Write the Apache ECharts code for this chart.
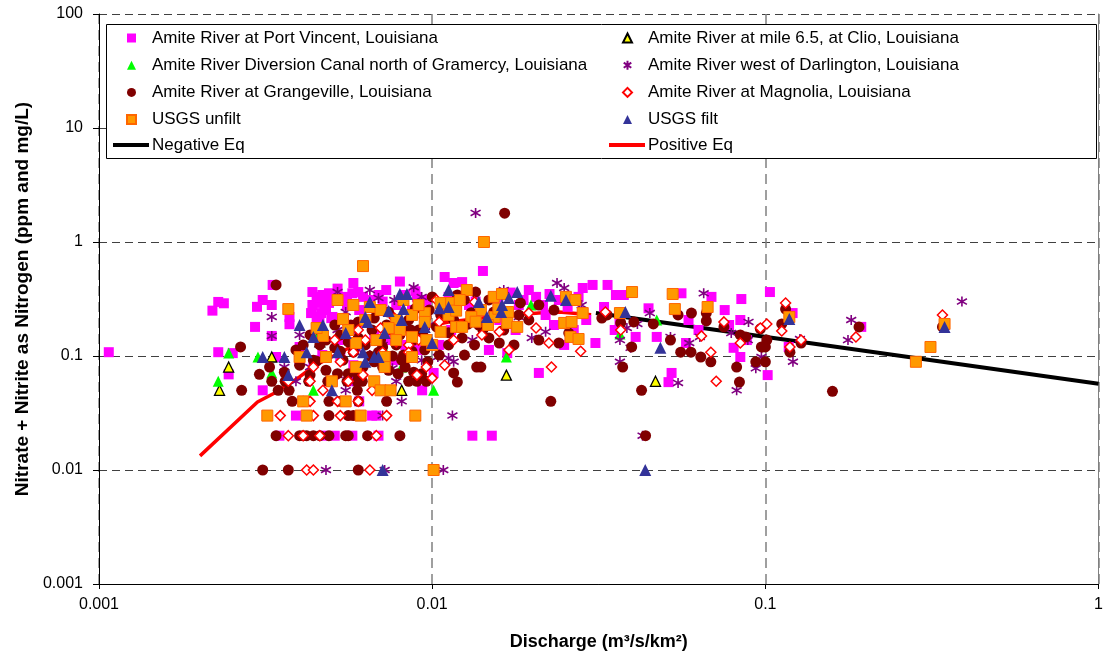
<!DOCTYPE html>
<html>
<head>
<meta charset="utf-8">
<script src="https://cdn.jsdelivr.net/npm/echarts@6/dist/echarts.min.js"></script>
<style>
html, body { margin: 0; padding: 0; background: #ffffff; }
#chart { width: 1106px; height: 657px; }
</style>
</head>
<body>
<div id="chart"></div>
<script>
// Nitrate + nitrite (mg/L as N) against unit discharge (m3/s/km2), Amite River basin.
// Each point is [discharge, concentration].

const xTickLabels = ['0.001', '0.01', '0.1', '1'];
const yTickLabels = ['0.001', '0.01', '0.1', '1', '10', '100'];

const portVincent = [
  [0.00107,0.108],[0.00219,0.25],[0.00228,0.298],[0.00237,0.29],[0.00228,0.108],[0.00252,0.106],[0.00245,0.069],
  [0.00294,0.18],[0.00298,0.27],[0.0031,0.31],[0.0033,0.28],[0.00332,0.42],[0.00373,0.22],[0.00373,0.19],[0.004,0.12],
  [0.0031,0.05],[0.0033,0.15],
  [0.00437,0.364],[0.0045,0.33],[0.00468,0.343],[0.0048,0.343],[0.0049,0.355],[0.00437,0.28],[0.00459,0.292],
  [0.0049,0.292],[0.00433,0.238],[0.00464,0.238],[0.0045,0.215],[0.00498,0.215],[0.00475,0.262],[0.00459,0.22],
  [0.0048,0.253],[0.00502,0.22],[0.00555,0.28],[0.0058,0.437],[0.00555,0.33],[0.00604,0.253],[0.00576,0.355],
  [0.00728,0.379],[0.008,0.45],[0.009,0.33],[0.0095,0.31],[0.0101,0.071],[0.00468,0.102],[0.0044,0.092],
  [0.00933,0.05],[0.00604,0.04],[0.0039,0.03],[0.0068,0.03],[0.0066,0.03],[0.00348,0.02],[0.0047,0.02],[0.0051,0.02],
  [0.00576,0.02],[0.0069,0.02],[0.0056,0.06],
  [0.0109,0.493],[0.0116,0.437],[0.0123,0.445],[0.0142,0.557],[0.0195,0.379],[0.0205,0.33],[0.0283,0.395],[0.0303,0.42],
  [0.0219,0.229],[0.0148,0.113],[0.0168,0.106],[0.0209,0.071],[0.0309,0.13],[0.0132,0.02],[0.0151,0.02],
  [0.0336,0.42],[0.0356,0.343],[0.0376,0.343],[0.0328,0.269],[0.0446,0.262],[0.056,0.355],[0.0689,0.33],[0.0847,0.316],
  [0.0755,0.253],[0.0841,0.207],[0.0408,0.147],[0.0472,0.147],[0.0578,0.13],[0.0523,0.071],[0.0512,0.059],[0.0803,0.118],
  [0.0841,0.098],[0.1016,0.068],[0.0353,0.169],[0.1032,0.364],[0.1207,0.238],[0.1175,0.12],[0.194,0.18],
  [0.0129,0.28],[0.0159,0.207],[0.0178,0.169],[0.0232,0.187],[0.0249,0.125],[0.0266,0.169],[0.0114,0.169],[0.0105,0.125],
  [0.0182,0.28],[0.024,0.31],[0.029,0.207],[0.0365,0.207],[0.0588,0.207],[0.063,0.169],[0.0778,0.187],[0.088,0.138],
  [0.006,0.364],[0.0065,0.31],[0.0069,0.343],[0.0078,0.28],[0.0083,0.343],[0.0087,0.253],[0.0063,0.199],[0.0067,0.153],
  [0.0074,0.138],[0.0058,0.169],[0.0053,0.138],[0.0083,0.125],[0.0091,0.113],[0.0077,0.092],[0.0058,0.083],[0.0053,0.096],
  [0.004,0.092],[0.0034,0.098],
  [0.0052,0.39],[0.0062,0.33],[0.0071,0.3],[0.0089,0.37],[0.0096,0.27],[0.0112,0.33],[0.0135,0.3],[0.0158,0.29],
  [0.0172,0.36],[0.0188,0.31],[0.0215,0.28],[0.0225,0.35],[0.0255,0.27],[0.0275,0.33]
];

const clio = [
  [0.00245,0.08],[0.0023,0.05],[0.0033,0.098],[0.0046,0.133],[0.0081,0.05],[0.0167,0.068],[0.0468,0.06]
];

const diversion = [
  [0.00245,0.106],[0.003,0.098],[0.00228,0.06],[0.0033,0.071],[0.0046,0.163],[0.0072,0.113],[0.0081,0.08],
  [0.0044,0.05],[0.0101,0.05],[0.0167,0.098],[0.0198,0.28],[0.0472,0.207],[0.0366,0.156]
];

const darlington = [
  [0.0033,0.22],[0.0033,0.15],[0.0052,0.364],[0.0069,0.323],[0.0088,0.401],[0.0093,0.33],[0.0055,0.243],[0.0052,0.169],
  [0.0059,0.163],[0.0036,0.08],[0.0043,0.08],[0.0052,0.068],[0.0076,0.078],[0.0093,0.092],[0.0078,0.06],[0.0039,0.06],
  [0.0058,0.06],[0.0055,0.05],[0.0081,0.04],[0.0071,0.03],[0.0048,0.01],[0.0072,0.01],
  [0.0135,1.8],[0.0115,0.03],[0.0108,0.01],[0.0428,0.02],[0.0237,0.437],[0.0249,0.395],[0.0281,0.28],[0.0182,0.22],
  [0.0219,0.163],[0.0199,0.144],[0.0104,0.098],[0.0112,0.096],[0.0116,0.089],[0.0132,0.138],
  [0.0653,0.355],[0.045,0.238],[0.0413,0.191],[0.0384,0.176],[0.0366,0.138],[0.0394,0.118],[0.0519,0.147],[0.0591,0.13],
  [0.0636,0.147],[0.0366,0.089],[0.0547,0.058],[0.082,0.05],[0.089,0.199],[0.079,0.159],[0.0886,0.138],[0.0973,0.098],
  [0.0936,0.078],[0.121,0.089],[0.127,0.141],[0.181,0.207],[0.177,0.138],[0.389,0.30],
  [0.0077,0.31],[0.0065,0.379],[0.0085,0.169],[0.0071,0.125],[0.006,0.113],[0.0046,0.138],[0.004,0.153],[0.0098,0.187],
  [0.0065,0.102],[0.0164,0.379]
];

const grangeville = [
  [0.0034,0.42],[0.00266,0.12],[0.00303,0.069],[0.00325,0.08],[0.0033,0.06],[0.00268,0.05],
  [0.00362,0.06],[0.00426,0.06],[0.00486,0.06],[0.00555,0.06],[0.00596,0.06],[0.00617,0.06],[0.0085,0.06],[0.009,0.06],[0.0096,0.06],
  [0.00345,0.05],[0.00372,0.05],[0.00596,0.05],
  [0.0038,0.04],[0.0041,0.04],[0.0049,0.04],[0.0053,0.04],[0.006,0.04],[0.0073,0.04],
  [0.0049,0.03],[0.0056,0.03],[0.0058,0.03],
  [0.0034,0.02],[0.004,0.02],[0.0041,0.02],[0.0042,0.02],[0.0044,0.02],[0.0046,0.02],[0.0049,0.02],[0.0055,0.02],
  [0.0056,0.02],[0.0064,0.02],[0.008,0.02],
  [0.0031,0.01],[0.0037,0.01],[0.006,0.01],
  [0.01,0.33],[0.0119,0.343],[0.0135,0.364],[0.0184,0.292],[0.0209,0.28],[0.0232,0.253],[0.0159,0.13],[0.0209,0.138],
  [0.024,0.13],[0.0257,0.159],[0.0136,0.08],[0.014,0.08],[0.0116,0.071],[0.0119,0.059],[0.0123,0.144],[0.0103,0.18],
  [0.0227,0.04],[0.0437,0.02],[0.0425,0.05],[0.0373,0.08],
  [0.0323,0.215],[0.0335,0.229],[0.0368,0.195],[0.0403,0.199],[0.0461,0.191],[0.0547,0.229],[0.06,0.238],[0.0665,0.238],
  [0.0665,0.203],[0.0519,0.138],[0.0557,0.108],[0.0598,0.108],[0.064,0.098],[0.0686,0.089],[0.0751,0.18],[0.0841,0.153],
  [0.0873,0.147],[0.082,0.08],[0.0836,0.059],[0.0936,0.089],[0.0397,0.12],[0.0973,0.12],
  [0.115,0.258],[0.0966,0.173],[0.112,0.191],[0.101,0.138],[0.1,0.12],[0.098,0.12],[0.1,0.089],[0.1185,0.108],
  [0.128,0.13],[0.191,0.18],[0.159,0.049],[0.34,0.18],[0.0165,1.79],
  [0.0043,0.153],[0.0046,0.125],[0.0048,0.138],[0.0051,0.118],[0.0053,0.153],[0.0056,0.133],[0.0058,0.108],[0.006,0.144],
  [0.0063,0.125],[0.0066,0.169],[0.0069,0.108],[0.007,0.138],[0.0073,0.187],[0.0078,0.125],[0.008,0.153],[0.0082,0.102],
  [0.0085,0.207],[0.0088,0.138],[0.0091,0.169],[0.0095,0.113],[0.0098,0.253],[0.0074,0.243],[0.0067,0.215],[0.006,0.199],
  [0.0057,0.187],[0.0051,0.187],[0.0046,0.169],[0.0044,0.092],[0.0048,0.075],[0.0054,0.092],[0.006,0.068],[0.0067,0.089],
  [0.0074,0.075],[0.0081,0.092],[0.0088,0.072],[0.0097,0.089],[0.0105,0.102],[0.0112,0.125],[0.0125,0.102],[0.0134,0.125],
  [0.0148,0.144],[0.0164,0.169],[0.0176,0.125],[0.0195,0.207],[0.0182,0.229],[0.0153,0.243],[0.0138,0.187],[0.0116,0.207],
  [0.0109,0.253],[0.0125,0.31],[0.0148,0.31],[0.0041,0.125],[0.0039,0.113],[0.004,0.083],[0.0036,0.072],[0.0043,0.068],
  [0.0052,0.07],[0.0056,0.07],[0.0079,0.07],[0.0093,0.07],[0.0062,0.08],[0.0071,0.08],[0.0083,0.08],[0.0045,0.09],
  [0.0065,0.1],[0.0076,0.1],[0.0087,0.11],[0.0053,0.11],[0.0071,0.12],[0.0094,0.15],[0.0086,0.17],[0.0079,0.2],
  [0.0096,0.22],[0.0089,0.26],[0.0106,0.23],[0.0118,0.27],[0.0131,0.24],[0.0112,0.16],[0.0128,0.19],[0.0142,0.17]
];

const magnolia = [
  [0.0051,0.138],[0.0058,0.108],[0.0063,0.138],[0.007,0.176],[0.0078,0.133],[0.0085,0.125],[0.0085,0.108],[0.0096,0.08],
  [0.009,0.068],[0.01,0.064],[0.0044,0.08],[0.0062,0.068],[0.0053,0.089],[0.0071,0.108],
  [0.0037,0.06],[0.0043,0.06],[0.0056,0.06],[0.0047,0.05],[0.0066,0.05],[0.0043,0.04],[0.0052,0.04],[0.006,0.04],
  [0.0035,0.03],[0.0044,0.03],[0.0053,0.03],[0.0073,0.03],[0.0037,0.02],[0.0041,0.02],[0.0046,0.02],[0.0068,0.02],
  [0.0042,0.01],[0.0044,0.01],[0.0065,0.01],
  [0.0134,0.298],[0.0121,0.31],[0.0103,0.31],[0.0195,0.238],[0.0205,0.176],[0.0224,0.13],[0.0279,0.11],[0.0228,0.08],
  [0.0141,0.153],[0.0159,0.163],[0.0105,0.199],[0.0368,0.169],[0.0643,0.15],[0.0686,0.108],[0.0751,0.199],[0.0841,0.13],
  [0.0712,0.06],[0.0966,0.176],[0.0331,0.243],[0.115,0.292],[0.101,0.191],[0.112,0.166],[0.128,0.138],[0.1185,0.12],
  [0.187,0.147],[0.34,0.229],
  [0.0054,0.207],[0.0077,0.215],[0.0091,0.138],[0.0116,0.138],[0.017,0.113],[0.0109,0.083],[0.006,0.169]
];

const usgsUnfilt = [
  [0.0062,0.615],[0.0037,0.258],[0.0047,0.15],[0.0054,0.211],[0.0065,0.269],[0.0078,0.207],[0.008,0.169],[0.0087,0.229],
  [0.0095,0.238],[0.0087,0.147],[0.0078,0.138],[0.0068,0.138],[0.0059,0.13],[0.0048,0.098],[0.004,0.098],[0.0056,0.169],
  [0.0072,0.098],[0.0087,0.098],[0.0072,0.08],[0.0059,0.08],[0.01,0.125],[0.0096,0.138],[0.005,0.06],[0.0067,0.06],
  [0.0095,0.199],
  [0.007,0.05],[0.0075,0.05],[0.0041,0.04],[0.0055,0.04],[0.0032,0.03],[0.0042,0.03],[0.0061,0.03],[0.0089,0.03],[0.0101,0.01],
  [0.0127,0.379],[0.0153,0.33],[0.0162,0.35],[0.0106,0.292],[0.0114,0.292],[0.014,0.253],[0.0131,0.22],[0.0154,0.22],
  [0.0169,0.243],[0.0147,0.187],[0.0168,0.195],[0.018,0.18],[0.0118,0.18],[0.0123,0.18],[0.0106,0.163],[0.0252,0.33],
  [0.0269,0.31],[0.0283,0.238],[0.0249,0.195],[0.0262,0.199],[0.026,0.147],[0.0275,0.141],[0.0112,0.229],[0.0143,1.0],
  [0.0398,0.364],[0.0527,0.35],[0.0535,0.258],[0.0671,0.269],[0.0366,0.238],[0.118,0.22],[0.345,0.191],[0.313,0.12],
  [0.283,0.089],
  [0.007,0.253],[0.0082,0.31],[0.0063,0.207],[0.0074,0.176],[0.0058,0.28],[0.0091,0.28],[0.0052,0.31],[0.0045,0.176],
  [0.0118,0.25],[0.0135,0.2],[0.0158,0.26],[0.0121,0.31]
];

const usgsFilt = [
  [0.004,0.187],[0.0047,0.187],[0.0044,0.147],[0.0042,0.108],[0.0031,0.098],[0.0036,0.098],[0.0065,0.298],[0.0063,0.22],
  [0.0064,0.199],[0.0074,0.248],[0.008,0.35],[0.0084,0.35],[0.0082,0.258],[0.0081,0.207],[0.0055,0.159],[0.0052,0.108],
  [0.0062,0.108],[0.0063,0.089],[0.0067,0.098],[0.0069,0.098],[0.0072,0.159],[0.0095,0.18],[0.01,0.13],[0.0037,0.068],
  [0.005,0.05],[0.0071,0.01],
  [0.0112,0.379],[0.0138,0.298],[0.0162,0.28],[0.017,0.323],[0.018,0.364],[0.0227,0.337],[0.0252,0.31],[0.0105,0.262],
  [0.0112,0.269],[0.0146,0.22],[0.0161,0.243],[0.038,0.243],[0.0484,0.118],[0.0436,0.01],[0.118,0.211],[0.345,0.18]
];

// Fitted relationships (falling and rising limbs)
const negativeEq = [[0.031,0.238],[1,0.057]];
const positiveEq = [
  [0.00201,0.0133],[0.00299,0.0395],[0.00341,0.0483],[0.0040,0.0655],[0.00437,0.080],[0.00564,0.118],
  [0.008,0.162],[0.0112,0.199],[0.0159,0.224],[0.0209,0.238],[0.024,0.243],[0.030,0.23]
];

const FONT = '"Liberation Sans", Arial, sans-serif';
const STAR = 'path://M5,0L5,10M0.8,2.2L9.2,7.8M0.8,7.8L9.2,2.2';

function decadeLabel(labels, base) {
  return function (v) {
    const i = Math.round(Math.log10(v)) - base;
    return labels[i] !== undefined ? labels[i] : '';
  };
}

const legendText = { fontFamily: FONT, fontSize: 17, color: '#000', lineHeight: 18, padding: [0, 0, 0, 11] };
const lineLegendText = { fontFamily: FONT, fontSize: 17, color: '#000', lineHeight: 18, padding: [0, 0, 0, -2] };

const chart = echarts.init(document.getElementById('chart'), null, { renderer: 'canvas' });

chart.setOption({
  animation: false,
  backgroundColor: '#ffffff',
  grid: { left: 99, right: 5, top: 14, bottom: 73, containLabel: false },
  xAxis: {
    type: 'log', logBase: 10, min: 0.001, max: 1,
    name: 'Discharge (m\u00B3/s/km\u00B2)',
    nameLocation: 'middle', nameGap: 49,
    nameTextStyle: { fontFamily: FONT, fontSize: 18, fontWeight: 'bold', color: '#000' },
    axisLine: { show: true, lineStyle: { color: '#000', width: 1 } },
    axisTick: { show: true, length: 5, lineStyle: { color: '#000' } },
    axisLabel: { fontFamily: FONT, fontSize: 16, color: '#000', margin: 13, formatter: decadeLabel(xTickLabels, -3) },
    minorTick: { show: false },
    splitLine: { show: true, lineStyle: { color: '#808080', width: 1.5, type: [10, 6] } }
  },
  yAxis: [{
    type: 'log', logBase: 10, min: 0.001, max: 100,
    name: 'Nitrate + Nitrite as Nitrogen (ppm and mg/L)',
    nameLocation: 'middle', nameGap: 67,
    nameTextStyle: { fontFamily: FONT, fontSize: 19, fontWeight: 'bold', color: '#000' },
    axisLine: { show: true, lineStyle: { color: '#000', width: 1 } },
    axisTick: { show: true, length: 6, lineStyle: { color: '#000' } },
    axisLabel: { fontFamily: FONT, fontSize: 16, color: '#000', margin: 16, formatter: decadeLabel(yTickLabels, -3) },
    splitLine: { show: true, lineStyle: { color: '#404040', width: 1, type: [8, 5] } }
  }, {
    type: 'log', logBase: 10, min: 0.001, max: 100, position: 'right',
    axisLine: { show: true, lineStyle: { color: '#808080', width: 1 } },
    axisTick: { show: false }, axisLabel: { show: false }, splitLine: { show: false }
  }],
  graphic: [{
    type: 'rect', z: 3,
    shape: { x: 106.5, y: 24.5, width: 990, height: 134 },
    style: { fill: '#ffffff', stroke: '#000000', lineWidth: 1 }
  }],
  legend: [{
    orient: 'vertical', left: 126, top: 29, padding: 0, z: 5, selectedMode: false,
    itemWidth: 9, itemHeight: 9, itemGap: 9.2, textStyle: legendText,
    data: ['Amite River at Port Vincent, Louisiana', 'Amite River Diversion Canal north of Gramercy, Louisiana',
           'Amite River at Grangeville, Louisiana', 'USGS unfilt']
  }, {
    orient: 'vertical', left: 622, top: 29, padding: 0, z: 5, selectedMode: false,
    itemWidth: 9, itemHeight: 9, itemGap: 9.2, textStyle: legendText,
    data: ['Amite River at mile 6.5, at Clio, Louisiana', 'Amite River west of Darlington, Louisiana',
           'Amite River at Magnolia, Louisiana', 'USGS filt']
  }, {
    orient: 'vertical', left: 113, top: 136, padding: 0, z: 5, selectedMode: false,
    itemWidth: 36, itemHeight: 4, textStyle: lineLegendText,
    data: [{ name: 'Negative Eq', icon: 'rect' }]
  }, {
    orient: 'vertical', left: 609, top: 136, padding: 0, z: 5, selectedMode: false,
    itemWidth: 36, itemHeight: 4, textStyle: lineLegendText,
    data: [{ name: 'Positive Eq', icon: 'rect' }]
  }],
  series: [
    { name: 'Negative Eq', type: 'line', data: negativeEq, symbol: 'none', z: 1,
      lineStyle: { color: '#000000', width: 4 }, itemStyle: { color: '#000000' } },
    { name: 'Positive Eq', type: 'line', data: positiveEq, symbol: 'none', z: 1,
      lineStyle: { color: '#FF0000', width: 3.5 }, itemStyle: { color: '#FF0000' } },
    { name: 'Amite River at Port Vincent, Louisiana', type: 'scatter', data: portVincent,
      symbol: 'rect', symbolSize: 10, itemStyle: { color: '#FF00FF', opacity: 1 } },
    { name: 'Amite River at mile 6.5, at Clio, Louisiana', type: 'scatter', data: clio,
      symbol: 'triangle', symbolSize: 10, itemStyle: { color: '#FFFF00', borderColor: '#000000', borderWidth: 1.3, opacity: 1 } },
    { name: 'Amite River Diversion Canal north of Gramercy, Louisiana', type: 'scatter', data: diversion,
      symbol: 'triangle', symbolSize: 11, itemStyle: { color: '#00FF00', opacity: 1 } },
    { name: 'Amite River west of Darlington, Louisiana', type: 'scatter', data: darlington,
      symbol: STAR, symbolSize: 10, itemStyle: { color: 'rgba(0,0,0,0)', borderColor: '#800080', borderWidth: 1.6, opacity: 1 } },
    { name: 'Amite River at Grangeville, Louisiana', type: 'scatter', data: grangeville,
      symbol: 'circle', symbolSize: 11, itemStyle: { color: '#800000', opacity: 1 } },
    { name: 'Amite River at Magnolia, Louisiana', type: 'scatter', data: magnolia,
      symbol: 'diamond', symbolSize: 10, itemStyle: { color: '#FFFFFF', borderColor: '#FF0000', borderWidth: 1.5, opacity: 1 } },
    { name: 'USGS unfilt', type: 'scatter', data: usgsUnfilt,
      symbol: 'rect', symbolSize: 11, itemStyle: { color: '#FF9900', borderColor: '#FF6600', borderWidth: 1, opacity: 1 } },
    { name: 'USGS filt', type: 'scatter', data: usgsFilt,
      symbol: 'triangle', symbolSize: 12, itemStyle: { color: '#333399', opacity: 1 } }
  ]
});
</script>
</body>
</html>
